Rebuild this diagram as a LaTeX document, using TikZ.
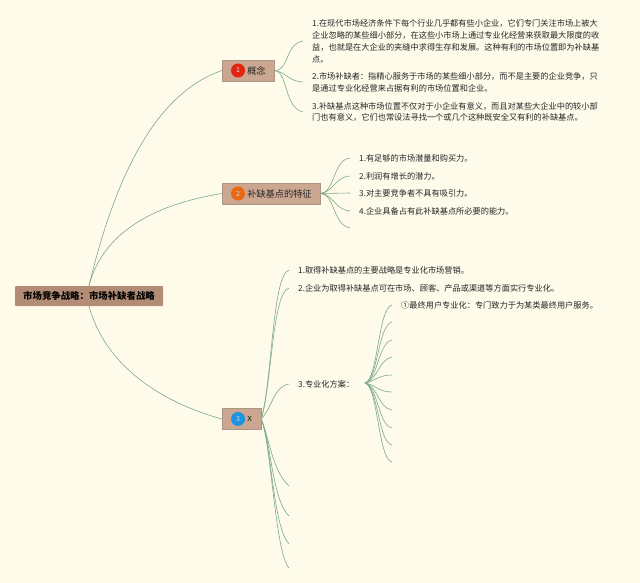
\documentclass[tikz,border=0pt]{standalone}
\usepackage{fontspec}
\setmainfont{Noto Sans CJK SC}
\usepackage{tikz}
\pgfdeclarelayer{edgelayer}
\pgfdeclarelayer{nodelayer}
\pgfsetlayers{edgelayer,nodelayer,main}
\newcommand{\cma}{\char"FF0C\relax}
\newcommand{\cln}{\char"FF1A\relax}
\definecolor{paper}{RGB}{254,251,234}
\definecolor{rootbrown}{RGB}{178,140,116}
\definecolor{boxbrown}{RGB}{203,166,144}
\definecolor{boxedge}{RGB}{170,150,130}
\definecolor{branchgreen}{RGB}{125,170,140}
\definecolor{lred}{RGB}{226,36,16}
\definecolor{lorange}{RGB}{232,104,20}
\definecolor{lblue}{RGB}{28,148,226}
\tikzstyle{rootbox}=[rectangle, fill=rootbrown, rounded corners=1pt, minimum width=148pt, minimum height=20pt, inner sep=0pt, font=\fontsize{9.4pt}{11pt}\selectfont\bfseries]
\tikzstyle{topic}=[rectangle, fill=boxbrown, draw=boxedge, line width=0.5pt, anchor=west, minimum height=21pt, inner ysep=0pt, inner xsep=9pt, font=\fontsize{9.2pt}{11pt}\selectfont, text=black!85]
\tikzstyle{badge}=[circle, minimum size=14pt, inner sep=0pt, text=white!85!black, font=\fontsize{7pt}{8pt}\selectfont]
\tikzstyle{leaf}=[anchor=west, inner xsep=9pt, inner ysep=0pt, align=left, text=black!85, font=\fontsize{8.2pt}{11.9pt}\selectfont]
\tikzstyle{branch}=[-, draw=branchgreen, line width=0.6pt]
\begin{document}
\begin{tikzpicture}[x=1pt, y=-1pt]
    \useasboundingbox (0, 0) rectangle (640, 583);
    \begin{pgfonlayer}{edgelayer}
        \fill [paper] (0, 0) rectangle (640, 583);
    \end{pgfonlayer}
    \begin{pgfonlayer}{nodelayer}
        \node [style=rootbox] (root) at (89, 296) {市场竞争战略\cln 市场补缺者战略};

        \node [style=topic] (concept) at (222, 70.5) {\hspace{16pt}概念};
        \node [style=badge, fill=lred] (badge1) at (238, 70.5) {1};
        \node [style=leaf] (leaf11) at (303, 41) {1.在现代市场经济条件下每个行业几乎都有些小企业\cma 它们专门关注市场上被大\\企业忽略的某些细小部分\cma 在这些小市场上通过专业化经营来获取最大限度的收\\益\cma 也就是在大企业的夹缝中求得生存和发展。这种有利的市场位置即为补缺基\\点。};
        \node [style=leaf] (leaf12) at (303, 82) {2.市场补缺者\cln 指精心服务于市场的某些细小部分\cma 而不是主要的企业竞争\cma 只\\是通过专业化经营来占据有利的市场位置和企业。};
        \node [style=leaf] (leaf13) at (303, 112) {3.补缺基点这种市场位置不仅对于小企业有意义\cma 而且对某些大企业中的较小部\\门也有意义\cma 它们也常设法寻找一个或几个这种既安全又有利的补缺基点。};

        \node [style=topic] (feature) at (222, 193.5) {\hspace{16pt}补缺基点的特征};
        \node [style=badge, fill=lorange] (badge2) at (238, 193.5) {2};
        \node [style=leaf] (leaf21) at (350, 158) {1.有足够的市场潜量和购买力。};
        \node [style=leaf] (leaf22) at (350, 176) {2.利润有增长的潜力。};
        \node [style=leaf] (leaf23) at (350, 193) {3.对主要竞争者不具有吸引力。};
        \node [style=leaf] (leaf24) at (350, 211) {4.企业具备占有此补缺基点所必要的能力。};
        \coordinate (leaf25) at (350, 228);

        \node [style=topic] (third) at (222, 419) {\hspace{16pt}x};
        \node [style=badge, fill=lblue] (badge3) at (238, 419) {3};
        \node [style=leaf] (leaf31) at (289, 270) {1.取得补缺基点的主要战略是专业化市场营销。};
        \node [style=leaf] (leaf32) at (289, 288) {2.企业为取得补缺基点可在市场、顾客、产品或渠道等方面实行专业化。};
        \node [style=leaf] (leaf33) at (289, 384) {3.专业化方案\cln};
        \coordinate (leaf34) at (289, 486);
        \coordinate (leaf35) at (289, 516);
        \coordinate (leaf36) at (289, 544);
        \coordinate (leaf37) at (289, 568);

        \coordinate (hub) at (365, 383);
        \node [style=leaf] (plan1) at (392, 305) {①最终用户专业化\cln 专门致力于为某类最终用户服务。};
        \coordinate (plan2) at (392, 322);
        \coordinate (plan3) at (392, 340);
        \coordinate (plan4) at (392, 357);
        \coordinate (plan5) at (392, 375);
        \coordinate (plan6) at (392, 392);
        \coordinate (plan7) at (392, 410);
        \coordinate (plan8) at (392, 428);
        \coordinate (plan9) at (392, 445);
        \coordinate (plan10) at (392, 462);
    \end{pgfonlayer}
    \begin{pgfonlayer}{edgelayer}
        \draw [style=branch] (root.north) .. controls (112, 190) and (150, 95) .. (concept.west);
        \draw [style=branch] (root.north) .. controls (102, 235) and (150, 205) .. (feature.west);
        \draw [style=branch] (root.south) .. controls (105, 365) and (160, 402) .. (third.west);

        \draw [style=branch] (concept.east) .. controls (290, 70) and (284, 45) .. (leaf11.west);
        \draw [style=branch] (concept.east) .. controls (285, 72) and (290, 82) .. (leaf12.west);
        \draw [style=branch] (concept.east) .. controls (288, 72) and (284, 108) .. (leaf13.west);

        \draw [style=branch] (feature.east) .. controls (335, 192) and (333, 160) .. (leaf21.west);
        \draw [style=branch] (feature.east) .. controls (333, 192) and (335, 177) .. (leaf22.west);
        \draw [style=branch] (feature.east) -- (leaf23.west);
        \draw [style=branch] (feature.east) .. controls (333, 194) and (335, 210) .. (leaf24.west);
        \draw [style=branch] (feature.east) .. controls (335, 195) and (333, 225) .. (leaf25);

        \draw [style=branch] (third.east) .. controls (272, 385) and (272, 275) .. (leaf31.west);
        \draw [style=branch] (third.east) .. controls (272, 385) and (272, 293) .. (leaf32.west);
        \draw [style=branch] (third.east) .. controls (272, 408) and (274, 386) .. (leaf33.west);
        \draw [style=branch] (third.east) .. controls (270, 440) and (272, 470) .. (leaf34);
        \draw [style=branch] (third.east) .. controls (271, 440) and (272, 500) .. (leaf35);
        \draw [style=branch] (third.east) .. controls (271, 440) and (273, 528) .. (leaf36);
        \draw [style=branch] (third.east) .. controls (271, 440) and (275, 553) .. (leaf37);

        \draw [style=branch] (hub) .. controls (378, 380) and (378, 308) .. (plan1.west);
        \draw [style=branch] (hub) .. controls (378, 380) and (378, 325) .. (plan2);
        \draw [style=branch] (hub) .. controls (378, 380) and (378, 343) .. (plan3);
        \draw [style=branch] (hub) .. controls (378, 380) and (378, 360) .. (plan4);
        \draw [style=branch] (hub) .. controls (376, 381) and (378, 375) .. (plan5);
        \draw [style=branch] (hub) .. controls (376, 385) and (378, 392) .. (plan6);
        \draw [style=branch] (hub) .. controls (378, 386) and (378, 408) .. (plan7);
        \draw [style=branch] (hub) .. controls (378, 386) and (378, 425) .. (plan8);
        \draw [style=branch] (hub) .. controls (378, 386) and (378, 442) .. (plan9);
        \draw [style=branch] (hub) .. controls (378, 386) and (378, 459) .. (plan10);
    \end{pgfonlayer}
\end{tikzpicture}
\end{document}
